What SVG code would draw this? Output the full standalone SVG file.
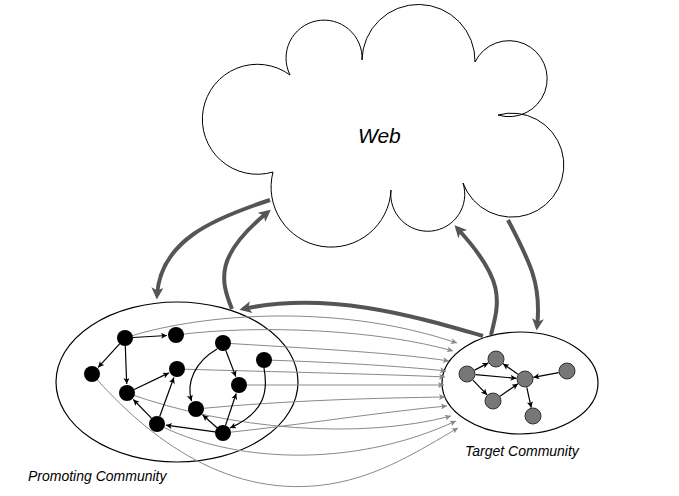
<svg xmlns="http://www.w3.org/2000/svg" width="679" height="496" viewBox="0 0 679 496">
<style>
.lbl{font-family:"Liberation Sans",Arial,sans-serif;font-style:italic;fill:#000}
.ell{fill:none;stroke:#000;stroke-width:1.2}
.bn{fill:#000}
.gn{fill:#777;stroke:#333;stroke-width:1}
.be{fill:none;stroke:#000;stroke-width:1.2;marker-end:url(#ab)}
.ge{fill:none;stroke:#888;stroke-width:1;marker-end:url(#ag)}
.te{fill:none;stroke:#555;stroke-width:4;marker-end:url(#at)}
</style>
<defs>
<marker id="ab" viewBox="0 0 10 10" refX="10" refY="5" markerWidth="9" markerHeight="6" markerUnits="userSpaceOnUse" orient="auto"><path d="M0,0L10,5L0,10L2.5,5z" fill="#000"/></marker>
<marker id="ag" viewBox="0 0 10 10" refX="10" refY="5" markerWidth="11" markerHeight="6" markerUnits="userSpaceOnUse" orient="auto"><path d="M0,0L10,5L0,10L2.5,5z" fill="#888"/></marker>
<marker id="at" viewBox="0 0 10 10" refX="7" refY="5" markerWidth="16" markerHeight="12" markerUnits="userSpaceOnUse" orient="auto"><path d="M0,0L10,5L0,10L2.5,5z" fill="#555"/></marker>
</defs>
<rect width="679" height="496" fill="#fff"/>

<g id="web">
<path d="M273,172 A55,55 0 1 1 290,75 A38,38 0 1 1 362,60 A56,56 0 1 1 475,62 A38,38 0 1 1 498,115 A52,52 0 1 1 463,183 A37,37 0 1 1 391,190 A60,60 0 1 1 273,172 Z" fill="#fff" stroke="#000" stroke-width="1"/>
<text class="lbl" x="358" y="143" font-size="21">Web</text>
</g>

<g id="promoting">
<ellipse class="ell" cx="177" cy="382" rx="121" ry="80"/>
<text class="lbl" x="28" y="481" font-size="14">Promoting Community</text>
</g>

<g id="target">
<ellipse class="ell" cx="520" cy="383" rx="78" ry="51"/>
<text class="lbl" x="465" y="456" font-size="14">Target Community</text>
</g>

<g id="connectors">
<path class="ge" d="M125,338 C190,316 330,300 457,343"/>
<path class="ge" d="M176,335 C260,324 380,330 453,351"/>
<path class="ge" d="M223,343 C300,348 390,352 449,361"/>
<path class="ge" d="M264,360 C330,362 400,366 446,371"/>
<path class="ge" d="M177,369 C280,372 380,374 445,377"/>
<path class="ge" d="M239,385 C320,385 400,385 444,385"/>
<path class="ge" d="M196,409 C290,400 380,398 445,397"/>
<path class="ge" d="M223,433 C300,425 380,412 447,406"/>
<path class="ge" d="M127,393 C230,430 360,440 451,416"/>
<path class="ge" d="M157,424 C230,462 350,470 456,421"/>
<path class="ge" d="M92,374 C150,440 230,500 330,484 C380,476 420,450 458,428"/>

<path class="be" d="M133,337.5 L167,335.5"/>
<path class="be" d="M119.6,343.9 L98.1,367.4"/>
<path class="be" d="M125.3,346 L126.7,384"/>
<path class="be" d="M134.2,389.5 L168.9,372.9"/>
<path class="be" d="M151.4,418.2 L133.3,399.5"/>
<path class="be" d="M159.7,416.5 L173.9,377.5"/>
<path class="be" d="M215.1,431.9 L165.9,425.2"/>
<path class="be" d="M217,427.7 L202.7,415"/>
<path class="be" d="M225.5,425.4 L236.2,393.5"/>
<path class="be" d="M225.8,350.5 L235.8,376.6"/>
<path class="be" d="M217,349 C195,362 186,382 191.5,401"/>
<path class="be" d="M264,368 C268,390 266,412 230,428"/>

<path class="be" d="M474.6,370.1 L488.4,362.9"/>
<path class="be" d="M518,374.2 L503,363.8"/>
<path class="be" d="M475.5,374.7 L516.5,378.3"/>
<path class="be" d="M472.9,380.1 L487.1,394.9"/>
<path class="be" d="M500,396.2 L518,383.8"/>
<path class="be" d="M558.7,372.6 L533.3,377.4"/>
<path class="be" d="M526.8,387.3 L531.2,407.7"/>

<path class="te" d="M270,200 C215,218 160,240 157,296"/>
<path class="te" d="M232,309 C220,280 215,255 268,212"/>
<path class="te" d="M483,336 C420,318 330,290 243,309"/>
<path class="te" d="M491,335 C500,300 505,280 457,228"/>
<path class="te" d="M508,220 C530,262 542,285 537,327"/>
</g>

<g id="nA"><circle class="bn" cx="125" cy="338" r="8"/></g>
<g id="nB"><circle class="bn" cx="176" cy="335" r="8"/></g>
<g id="nC"><circle class="bn" cx="223" cy="343" r="8"/></g>
<g id="nD"><circle class="bn" cx="264" cy="360" r="8"/></g>
<g id="nE"><circle class="bn" cx="92" cy="374" r="8"/></g>
<g id="nF"><circle class="bn" cx="177" cy="369" r="8"/></g>
<g id="nG"><circle class="bn" cx="239" cy="385" r="8"/></g>
<g id="nH"><circle class="bn" cx="127" cy="393" r="8"/></g>
<g id="nI"><circle class="bn" cx="196" cy="409" r="8"/></g>
<g id="nJ"><circle class="bn" cx="157" cy="424" r="8"/></g>
<g id="nK"><circle class="bn" cx="223" cy="433" r="8"/></g>

<g id="tP"><circle class="gn" cx="467" cy="374" r="8"/></g>
<g id="tQ"><circle class="gn" cx="496" cy="359" r="8"/></g>
<g id="tR"><circle class="gn" cx="525" cy="379" r="8"/></g>
<g id="tS"><circle class="gn" cx="567" cy="371" r="8"/></g>
<g id="tT"><circle class="gn" cx="493" cy="401" r="8"/></g>
<g id="tU"><circle class="gn" cx="533" cy="416" r="8"/></g>
</svg>
